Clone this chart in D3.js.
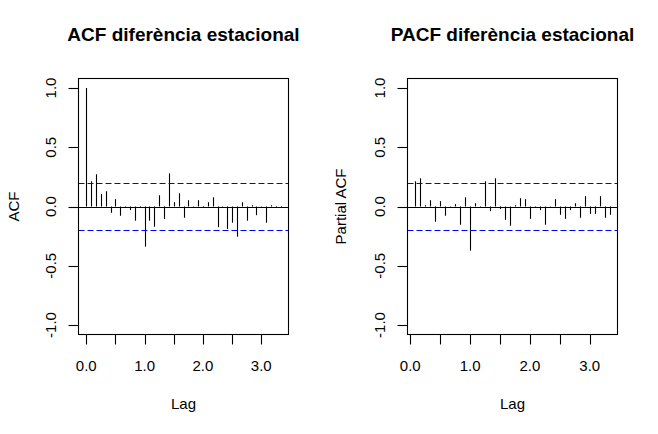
<!DOCTYPE html>
<html>
<head>
<meta charset="utf-8">
<script src="https://cdn.jsdelivr.net/npm/d3@7"></script>
<style>
  body { margin: 0; background: #fff; }
  svg { display: block; }
</style>
</head>
<body>
<div id="vis"></div>
<script>
// lag index in months (frequency 12)
const acfLags = d3.range(0, 41);
const acfValues = [
  1.0, 0.213, 0.272, 0.106, 0.129, -0.053, 0.062, -0.078, 0.004, -0.031,
  -0.12, -0.005, -0.339, -0.12, -0.171, 0.095, -0.106, 0.28, 0.036, 0.112,
  -0.095, 0.053, 0.003, 0.053, -0.011, 0.036, 0.078, -0.174, -0.003, -0.19,
  -0.137, -0.255, 0.036, -0.12, 0.011, -0.073, 0.003, -0.137, 0.011, -0.011,
  -0.011
];
const pacfLags = d3.range(1, 41);
const pacfValues = [
  0.213, 0.238, 0.011, 0.053, -0.129, 0.045, -0.078, 0.003, 0.02, -0.154,
  0.078, -0.373, 0.028, -0.011, 0.213, -0.039, 0.238, -0.022, -0.112, -0.162,
  0.011, 0.07, 0.062, -0.104, -0.011, -0.031, -0.154, 0.003, 0.062, -0.07,
  -0.104, -0.031, 0.028, -0.095, 0.087, -0.062, -0.062, 0.087, -0.095, -0.07
];
const ciBound = 0.196;   // 1.96 / sqrt(100)
const yTicks = [-1, -0.5, 0, 0.5, 1];
const xTicks = [0, 0.5, 1, 1.5, 2, 2.5, 3];
const xLabels = ["0.0", "", "1.0", "", "2.0", "", "3.0"];

const font = '"Liberation Sans", Arial, Helvetica, sans-serif';
const W = 658, H = 434;

const svg = d3.select("#vis").append("svg")
  .attr("width", W).attr("height", H)
  .style("font-family", font);
svg.append("rect").attr("width", W).attr("height", H).attr("fill", "#fff");

function drawPanel(p) {
  const lags = p.lags.map(k => k / 12);
  const ext = d3.extent(lags);
  const pad = (ext[1] - ext[0]) * 0.04;
  const x = d3.scaleLinear().domain([ext[0] - pad, ext[1] + pad]).range([p.left, p.right]);
  const y = d3.scaleLinear().domain([-1.08, 1.08]).range([p.bottom, p.top]);
  const g = svg.append("g");
  const cx = (p.left + p.right) / 2, cy = (p.top + p.bottom) / 2;

  // bars
  g.selectAll("line.bar").data(lags).join("line")
    .attr("class", "bar")
    .attr("x1", d => Math.round(x(d)) + 0.5).attr("x2", d => Math.round(x(d)) + 0.5)
    .attr("y1", y(0)).attr("y2", (d, i) => y(p.values[i]))
    .attr("stroke", "#000").attr("stroke-width", 1.1);

  // zero line
  g.append("line")
    .attr("x1", p.left).attr("x2", p.right)
    .attr("y1", Math.round(y(0)) + 0.5).attr("y2", Math.round(y(0)) + 0.5)
    .attr("stroke", "#000").attr("stroke-width", 1.1);

  // confidence bounds
  [ciBound, -ciBound].forEach(c => {
    g.append("line")
      .attr("x1", p.left).attr("x2", p.right)
      .attr("y1", Math.round(y(c)) + 0.5).attr("y2", Math.round(y(c)) + 0.5)
      .attr("stroke", "#0000ff").attr("stroke-width", 1.1)
      .attr("stroke-dasharray", "6,3");
  });

  // box
  g.append("rect")
    .attr("x", p.left).attr("y", p.top)
    .attr("width", p.right - p.left).attr("height", p.bottom - p.top)
    .attr("fill", "none").attr("stroke", "#000").attr("stroke-width", 1.1);

  // y axis
  yTicks.forEach(t => {
    const yy = Math.round(y(t)) + 0.5;
    g.append("line").attr("x1", p.left - 10).attr("x2", p.left)
      .attr("y1", yy).attr("y2", yy).attr("stroke", "#000").attr("stroke-width", 1.1);
    g.append("text")
      .attr("transform", `translate(${p.left - 28},${y(t)}) rotate(-90)`)
      .attr("text-anchor", "middle").attr("dy", "0.36em")
      .style("font-size", "15px").attr("fill", "#000")
      .text(t.toFixed(1));
  });

  // x axis
  xTicks.forEach((t, i) => {
    const xx = Math.round(x(t)) + 0.5;
    g.append("line").attr("x1", xx).attr("x2", xx)
      .attr("y1", p.bottom).attr("y2", p.bottom + 10)
      .attr("stroke", "#000").attr("stroke-width", 1.1);
    if (xLabels[i]) {
      g.append("text")
        .attr("x", x(t)).attr("y", 370.5)
        .attr("text-anchor", "middle")
        .style("font-size", "15px").attr("fill", "#000")
        .text(xLabels[i]);
    }
  });

  g.append("text")
    .attr("x", cx).attr("y", 409)
    .attr("text-anchor", "middle").style("font-size", "15px")
    .text("Lag");

  g.append("text")
    .attr("transform", `translate(${p.ylabX},${cy}) rotate(-90)`)
    .attr("text-anchor", "middle").attr("dy", "0.36em")
    .style("font-size", "15px")
    .text(p.ylab);

  g.append("text")
    .attr("x", cx).attr("y", 41)
    .attr("text-anchor", "middle")
    .style("font-size", "19px").style("font-weight", "bold")
    .text(p.title);
}

drawPanel({
  lags: acfLags, values: acfValues,
  left: 78.5, right: 288.5, top: 78.5, bottom: 334.5,
  title: "ACF diferència estacional", ylab: "ACF", ylabX: 14
});
drawPanel({
  lags: pacfLags, values: pacfValues,
  left: 407.5, right: 617.5, top: 78.5, bottom: 334.5,
  title: "PACF diferència estacional", ylab: "Partial ACF", ylabX: 341
});
</script>
</body>
</html>
